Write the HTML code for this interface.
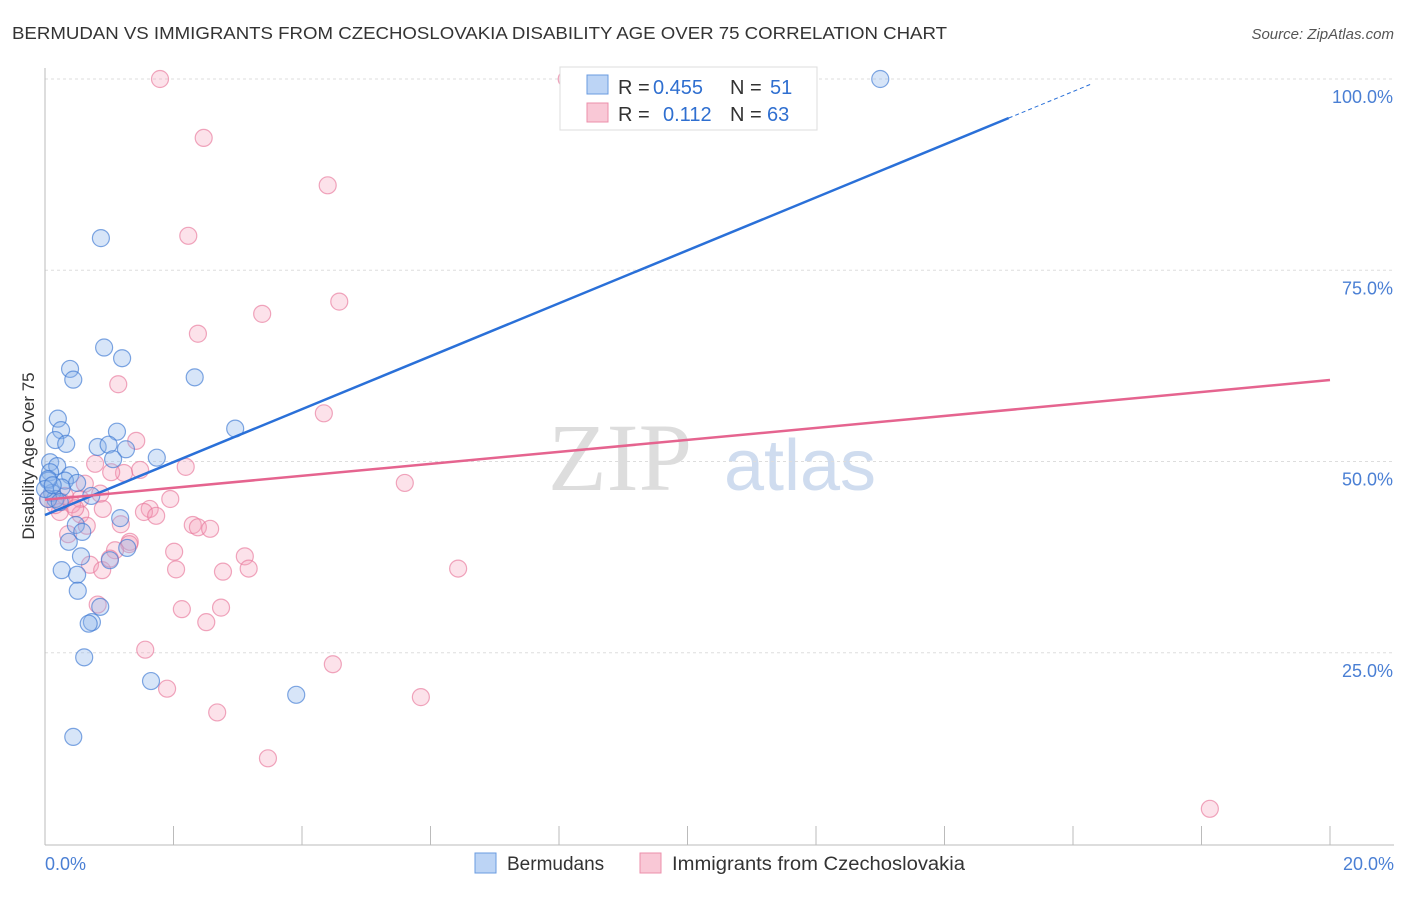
<!DOCTYPE html>
<html><head><meta charset="utf-8"><style>
body{margin:0;background:#fff;font-family:"Liberation Sans",sans-serif}
</style></head><body>
<svg id="c" width="1406" height="892" xmlns="http://www.w3.org/2000/svg">
<text x="12" y="39" font-size="17.5" fill="#333" textLength="935" lengthAdjust="spacingAndGlyphs">BERMUDAN VS IMMIGRANTS FROM CZECHOSLOVAKIA DISABILITY AGE OVER 75 CORRELATION CHART</text>
<text x="1394" y="39" font-size="15" fill="#555" font-style="italic" text-anchor="end">Source: ZipAtlas.com</text>
<text x="0" y="0" transform="translate(34,456) rotate(-90)" font-size="17" fill="#333" text-anchor="middle">Disability Age Over 75</text>
<text x="620" y="490" font-size="96" fill="#ddd" font-family="Liberation Serif,serif" text-anchor="middle">ZIP</text>
<text x="800" y="490" font-size="72" fill="#cfdcef" text-anchor="middle">atlas</text>
<g id="grid"></g><g id="marks"></g>
<g>
<rect x="560" y="67" width="257" height="63" fill="#fff" stroke="#ddd"/>
<rect x="587" y="75" width="21" height="19" fill="#bcd4f5" stroke="#6a9be0"/>
<rect x="587" y="103" width="21" height="19" fill="#f9c8d6" stroke="#ec8fab"/>
<g font-size="20">
<text x="618" y="94" fill="#333">R =</text><text x="653" y="94" fill="#2f6fd0">0.455</text>
<text x="730" y="94" fill="#333">N =</text><text x="770" y="94" fill="#2f6fd0">51</text>
<text x="618" y="121" fill="#333">R =</text><text x="663" y="121" fill="#2f6fd0">0.112</text>
<text x="730" y="121" fill="#333">N =</text><text x="767" y="121" fill="#2f6fd0">63</text>
</g>
</g>
<g>
<rect x="475" y="853" width="21" height="20" fill="#bcd4f5" stroke="#6a9be0"/>
<text x="507" y="870" font-size="19" fill="#333">Bermudans</text>
<rect x="640" y="853" width="21" height="20" fill="#f9c8d6" stroke="#ec8fab"/>
<text x="672" y="870" font-size="19" fill="#333" textLength="293" lengthAdjust="spacingAndGlyphs">Immigrants from Czechoslovakia</text>
</g>
<text x="45" y="870" font-size="18" fill="#4a7fd4">0.0%</text>
<text x="1394" y="870" font-size="18" fill="#4a7fd4" text-anchor="end">20.0%</text>
</svg>
<script>
const yTicks=[100,75,50,25];
const yTickLabels=["100.0%","75.0%","50.0%","25.0%"];
const blueX=[13.0,0.87,0.92,1.2,0.39,0.44,2.33,0.2,2.96,0.25,1.12,0.16,0.33,0.82,0.99,1.26,1.74,1.06,0.08,0.19,0.08,0.39,0.31,0.5,0.05,0.26,0.11,0.72,0.16,0.05,1.17,0.48,0.58,0.37,0.56,1.28,1.01,0.26,0.5,0.51,0.86,0.73,0.68,0.61,1.65,3.91,0.44,0.05,0.0,0.12,0.23];
const blueY=[100,79.2,64.9,63.5,62.1,60.7,61.0,55.6,54.3,54.1,53.9,52.8,52.3,51.9,52.2,51.6,50.5,50.3,49.9,49.4,48.6,48.2,47.5,47.2,47.5,46.6,45.9,45.5,45.1,45.1,42.6,41.7,40.8,39.5,37.6,38.7,37.1,35.8,35.2,33.1,31.0,29.0,28.8,24.4,21.3,19.5,14.0,47.7,46.4,46.9,44.7];
const pinkX=[1.79,8.12,9.52,2.47,4.4,2.23,4.58,3.38,2.38,1.14,4.34,1.42,0.78,2.19,1.48,1.23,1.03,5.6,0.55,1.95,0.26,0.42,0.9,1.63,1.54,1.73,0.23,0.55,1.18,0.65,2.3,2.38,2.57,0.36,1.32,1.31,1.09,2.01,3.11,0.7,0.89,2.04,2.77,3.17,6.43,1.01,0.82,2.74,2.13,2.51,1.56,4.48,1.9,5.85,2.68,3.47,18.13,0.16,0.05,0.31,0.62,0.47,0.86];
const pinkY=[100,100,100,92.3,86.1,79.5,70.9,69.3,66.7,60.1,56.3,52.7,49.7,49.3,48.9,48.5,48.6,47.2,45.1,45.1,44.7,44.4,43.8,43.8,43.4,42.9,43.4,43.1,41.8,41.6,41.7,41.4,41.2,40.5,39.5,39.2,38.4,38.2,37.6,36.5,35.8,35.9,35.6,36.0,36.0,37.3,31.3,30.9,30.7,29.0,25.4,23.5,20.3,19.2,17.2,11.2,4.6,44.3,45.1,45.5,47.1,43.9,45.8];
const blueLine=[43.0,3.46], pinkLine=[45.0,0.7825];
const X=v=>45+v/20*1285, Y=v=>844-v/100*765;
const NS="http://www.w3.org/2000/svg";
function mk(t,a,p){const e=document.createElementNS(NS,t);for(const k in a)e.setAttribute(k,a[k]);p.appendChild(e);return e;}
const g=document.getElementById('grid'),m=document.getElementById('marks');
yTicks.forEach((t,i)=>{
 const l=mk('line',{x1:45,x2:1394,y1:Y(t),y2:Y(t),stroke:'#ddd','stroke-dasharray':'3,3'},g);
 
 
 const tx=mk('text',{x:1393,y:Y(t)+24,'font-size':18,fill:'#4a7fd4','text-anchor':'end'},g);
 tx.textContent=yTickLabels[i];
 
 
});
const ax=mk('line',{x1:45,x2:45,y1:68,y2:845,stroke:'#bbb'},g);


const bx=mk('line',{x1:45,x2:1394,y1:845,y2:845,stroke:'#bbb'},g);


for(let i=0;i<=10;i++){const tk=mk('line',{x1:X(i*2),x2:X(i*2),y1:826,y2:845,stroke:'#bbb'},g);
 
 }
pinkX.forEach((x,i)=>{const c=mk('circle',{cx:X(x),cy:Y(pinkY[i]),r:8.5,fill:'rgba(245,160,185,0.3)',stroke:'rgba(232,120,155,0.65)','stroke-width':1.2},m);
 
 });
blueX.forEach((x,i)=>{const c=mk('circle',{cx:X(x),cy:Y(blueY[i]),r:8.5,fill:'rgba(140,180,235,0.35)',stroke:'rgba(60,120,210,0.65)','stroke-width':1.2},m);
 
 });
const xe=15.0, xd=16.3;
let l1=mk('line',{x1:X(0),y1:Y(blueLine[0]),x2:X(xe),y2:Y(blueLine[0]+blueLine[1]*xe),stroke:'#2a70d8','stroke-width':2.5},m);


let l2=mk('line',{x1:X(xe),y1:Y(blueLine[0]+blueLine[1]*xe),x2:X(xd),y2:Y(blueLine[0]+blueLine[1]*xd),stroke:'#2a70d8','stroke-width':1,'stroke-dasharray':'4,3'},m);


let l3=mk('line',{x1:X(0),y1:Y(pinkLine[0]),x2:X(20),y2:Y(pinkLine[0]+pinkLine[1]*20),stroke:'#e5648f','stroke-width':2.5},m);


</script>
</body></html>
